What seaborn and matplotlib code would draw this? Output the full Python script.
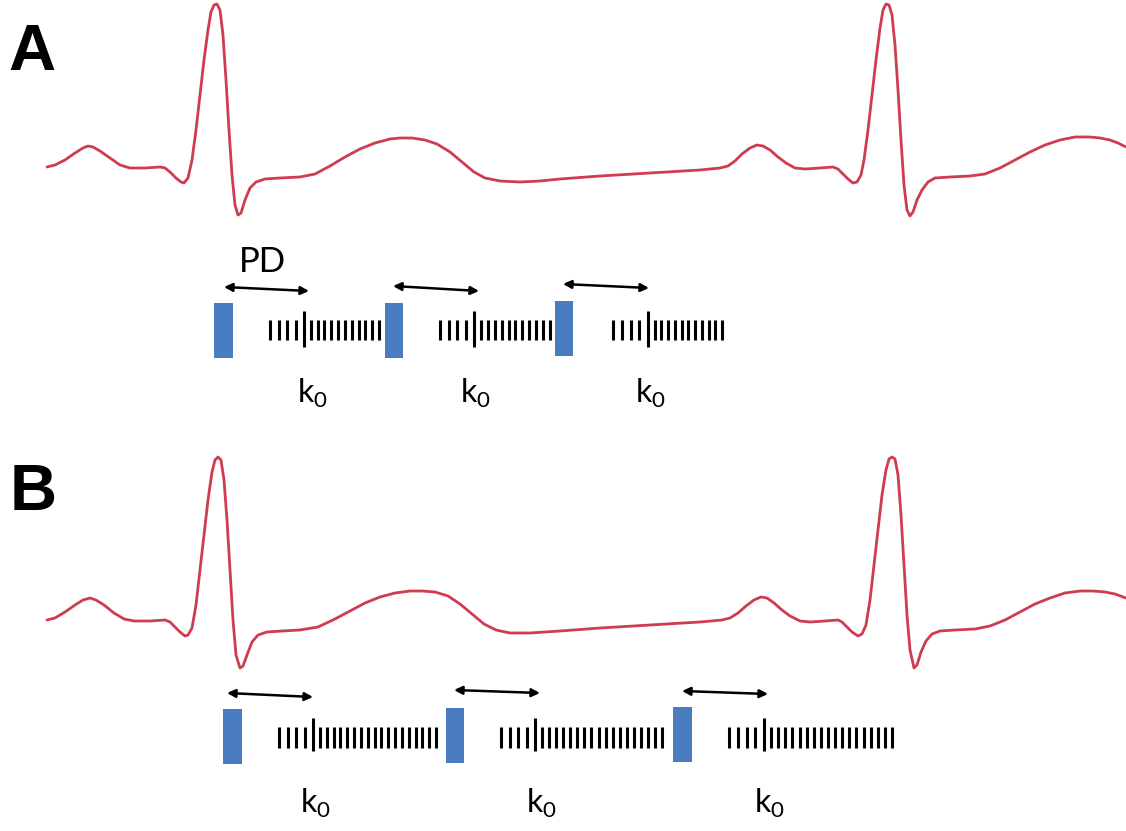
import numpy as np
import pandas as pd
import matplotlib
matplotlib.use("Agg")
import matplotlib.pyplot as plt
import seaborn as sns

# ---------------- data (pixel-space diagram coordinates) ----------------
ecg_a_x = [47,55,65,75,83,88,93,100,110,120,130,145,160,165,170,176,181,184,188,192,196,200,204,208,211,214,217,220,223,226,229,232,235,238,241,245,250,256,265,280,300,315,330,345,360,375,390,400,412,425,437,450,462,474,485,500,520,540,560,600,650,700,720,728,735,742,750,757,763,770,778,786,795,805,820,833,838,843,848,853,857,861,864,868,872,876,880,883,886,889,892,895,898,901,904,907,910,913,917,922,928,935,950,970,985,1000,1015,1030,1045,1060,1075,1090,1100,1110,1118,1126]
ecg_a_y = [167,165,160,153,148,146,147,151,158,165,168,168,167,168,172,178,182,183,178,160,130,95,60,30,12,5,4,10,35,80,130,175,205,215,213,200,188,182,179,178,177,174,166,157,149,143,139,138,138,140,144,152,162,172,178,181,182,181,179,176,173,170,168,166,161,154,148,145,146,150,157,163,168,169,168,167,169,174,179,183,182,175,160,130,95,60,28,10,4,5,15,45,90,140,185,210,216,212,200,190,182,178,177,176,174,168,160,152,145,140,137,137,138,140,143,147]

ecg_b_x = [47,55,65,75,83,90,96,104,114,124,134,150,165,170,175,180,185,188,192,196,200,204,208,212,215,218,221,224,227,230,233,236,240,243,247,252,258,267,282,300,318,335,350,365,380,395,410,422,435,448,460,472,484,496,510,530,560,600,650,700,722,730,738,746,754,761,767,774,782,790,800,810,825,838,842,847,852,858,862,866,870,874,878,882,886,889,892,895,898,901,904,907,910,914,917,921,926,932,940,955,975,990,1005,1020,1035,1050,1065,1080,1093,1105,1115,1126]
ecg_b_y = [620,618,612,605,600,598,600,605,613,619,621,621,620,622,627,632,636,635,628,605,570,535,500,472,460,457,460,480,520,570,620,655,668,666,655,642,635,632,631,630,627,619,611,603,597,593,591,591,592,596,604,614,624,630,633,633,631,628,625,622,620,618,613,606,600,597,598,603,610,616,621,622,621,620,622,627,632,636,634,625,600,565,530,495,470,459,457,459,475,515,565,615,650,668,665,652,641,634,631,630,629,626,620,612,604,598,593,591,591,592,594,598]

# stimulus (blue bars): left, right, top, bottom
stim_a_left = [214, 385, 555]
stim_a_right = [233, 403, 573]
stim_a_top = [303, 303, 301]
stim_a_bottom = [358, 358, 356]
stim_b_left = [223, 446, 673]
stim_b_right = [242, 464, 692]
stim_b_top = [709, 708, 707]
stim_b_bottom = [764, 763, 762]

# PD arrows: x0, y0, x1, y1
arrow_a = [(224, 287, 309, 291), (393, 286, 479, 291), (563, 284, 649, 288)]
arrow_b = [(227, 693, 313, 697), (454, 690, 540, 693), (682, 691, 768, 694)]

# tick trains: start, long tick, end, ticks before long, ticks after long
train_a = [(270, 304, 379, 4, 11), (440, 474, 550, 4, 11), (613, 648, 722, 4, 11)]
train_b = [(279, 313, 436, 4, 18), (501, 535, 662, 4, 18), (729, 764, 892, 4, 18)]
tick_a_short = (320, 340)
tick_a_long = (311, 347)
tick_b_short = (727, 748)
tick_b_long = (718, 751)

# labels
k0_a_x = [297, 460, 635]
k0_b_x = [300, 526, 754]
k0_a_base = 403
k0_b_base = 813

# ---------------- drawing ----------------
sns.set_theme(style="white")
plt.rcParams['font.family'] = ['Lato', 'DejaVu Sans']
plt.rcParams['mathtext.fontset'] = 'custom'
plt.rcParams['mathtext.rm'] = 'Lato'
plt.rcParams['mathtext.it'] = 'Lato:italic'

fig = plt.figure(figsize=(11.26, 8.31), dpi=100)
ax = fig.add_axes([0, 0, 1, 1])

red = '#cf3b4f'
df_a = pd.DataFrame({'x': ecg_a_x, 'y': ecg_a_y})
df_b = pd.DataFrame({'x': ecg_b_x, 'y': ecg_b_y})
for df in (df_a, df_b):
    sns.lineplot(data=df, x='x', y='y', sort=False, ax=ax, color=red, lw=2.0,
                 estimator=None, solid_joinstyle='round', solid_capstyle='round')
ax.set_xlim(0, 1126)
ax.set_ylim(831, 0)
ax.axis('off')

blue = '#4a7dbf'
for L, R, T, B in zip(stim_a_left + stim_b_left, stim_a_right + stim_b_right,
                      stim_a_top + stim_b_top, stim_a_bottom + stim_b_bottom):
    ax.bar(L, B - T, width=R - L, bottom=T, align='edge', color=blue, edgecolor='none')

for x0, y0, x1, y1 in arrow_a + arrow_b:
    ax.annotate('', xy=(x1, y1), xytext=(x0, y0),
                arrowprops=dict(arrowstyle='<|-|>', color='black', lw=1.8,
                                mutation_scale=12, shrinkA=0, shrinkB=0))


def draw_train(spec, short, long_):
    s, l, e, nb, na = spec
    before = np.linspace(s, l, nb + 1)[:-1]
    after = np.linspace(l, e, na + 1)[1:]
    xs = np.concatenate([before, after])
    ax.vlines(xs, short[0], short[1], color='black', lw=2.2)
    ax.vlines([l], long_[0], long_[1], color='black', lw=2.2)


for spec in train_a:
    draw_train(spec, tick_a_short, tick_a_long)
for spec in train_b:
    draw_train(spec, tick_b_short, tick_b_long)

for x in k0_a_x:
    ax.text(x, k0_a_base, r'k$_\mathrm{0}$', fontsize=23, ha='left', va='baseline', color='black')
for x in k0_b_x:
    ax.text(x, k0_b_base, r'k$_\mathrm{0}$', fontsize=23, ha='left', va='baseline', color='black')

ax.text(262, 272, 'PD', fontsize=25, ha='center', va='baseline', color='black')

ax.text(8, 70, 'A', fontsize=47, fontweight='bold', family=['Liberation Sans', 'DejaVu Sans'],
        ha='left', va='baseline', color='black')
ax.text(10, 510, 'B', fontsize=47, fontweight='bold', family=['Liberation Sans', 'DejaVu Sans'],
        ha='left', va='baseline', color='black')

fig.savefig('out.png', dpi=100)
